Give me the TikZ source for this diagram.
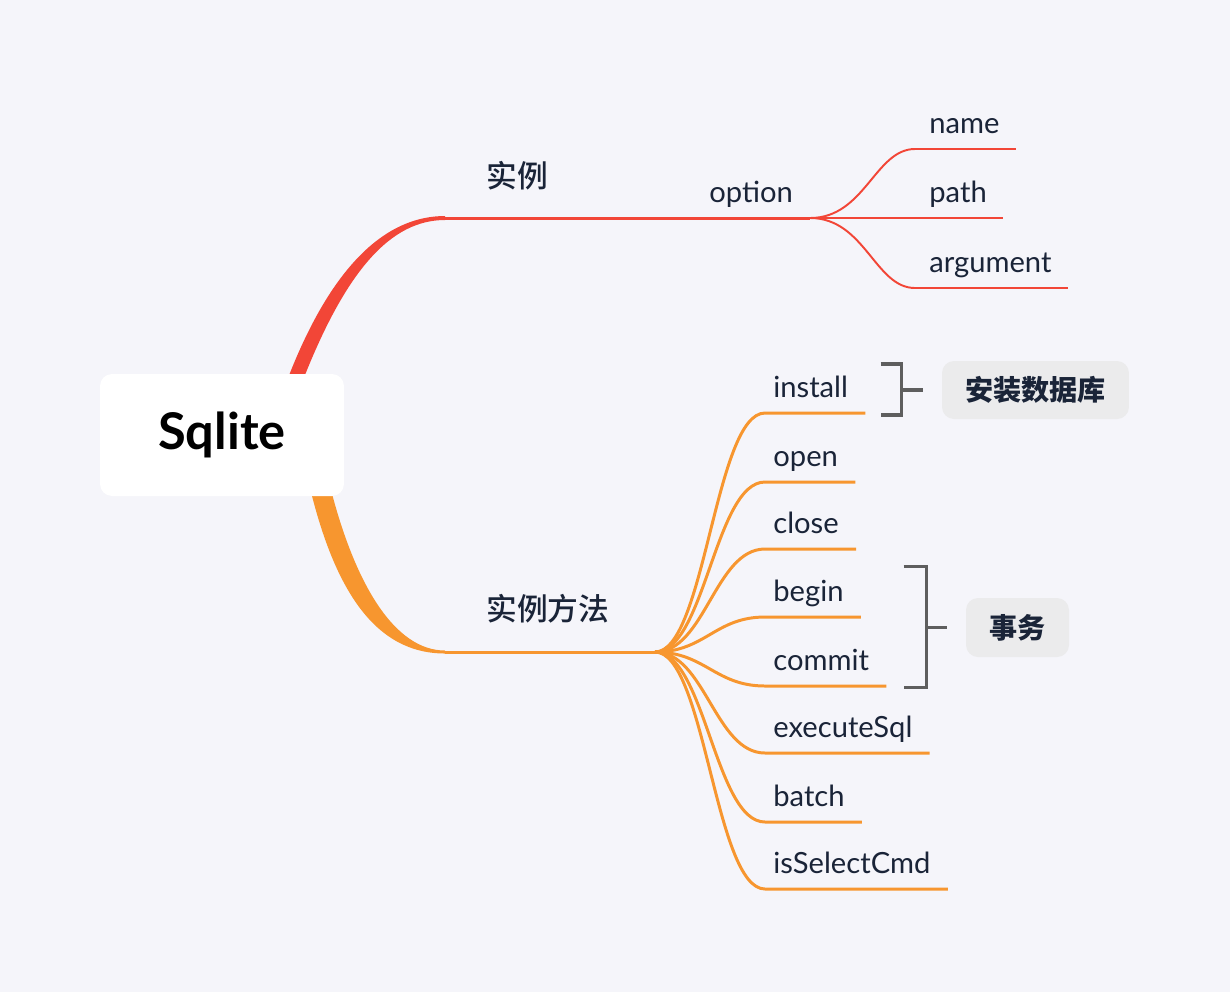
\documentclass[tikz,border=0pt]{standalone}
\usepackage{fontspec}
\setmainfont{Lato}
\newfontfamily\cjk{Noto Sans CJK SC}
\newfontfamily\cjkmed{Noto Sans CJK SC Medium}
\usetikzlibrary{calc}
\definecolor{bg}{HTML}{F5F5FA}
\definecolor{redbr}{HTML}{F24637}
\definecolor{orbr}{HTML}{F7962F}
\definecolor{ink}{HTML}{1A2438}
\definecolor{bracegray}{HTML}{5E5E5E}
\definecolor{notefill}{HTML}{EBEBEC}
\tikzstyle{root} = [fill=white,rounded corners=0.24cm,minimum width=4.88cm,minimum height=2.44cm,font=\bfseries\fontsize{28.8}{32}\selectfont]
\tikzstyle{topic} = [anchor=west,inner sep=0,text=ink,font=\cjkmed\fontsize{17.5}{20}\selectfont]
\tikzstyle{leaf} = [anchor=base west,inner sep=0,text=ink,font=\fontsize{16.6}{19}\selectfont]
\tikzstyle{twig} = [line width=1.7pt,orbr]
\tikzstyle{redtwig} = [line width=1.1pt,redbr]
\tikzstyle{brace} = [line width=1.9pt,bracegray]
\tikzstyle{note} = [fill=notefill,rounded corners=0.24cm,text=ink,font=\cjk\bfseries\fontsize{16}{18}\selectfont]

\begin{document}
\begin{tikzpicture}[x=0.02cm,y=-0.02cm]
        \fill[bg] (0,0) rectangle (1230,992);
        \coordinate (c) at (222,435);
        \coordinate (a) at (445,218);
        \coordinate (p) at (810,218);
        \coordinate (b) at (445,652);
        \coordinate (q) at (655,652);

        % main branches
        \fill[redbr] ($(c)+(66,-57)$) .. controls +(45,-116) and +(-57,0) .. ($(a)+(0,-2)$) -- ($(a)+(0,2)$) .. controls +(-53,0) and +(44,-112) .. ($(c)+(81,-55)$) -- cycle;
        \fill[orbr] ($(c)+(88,53)$) .. controls +(25,102) and +(-70,0) .. ($(b)+(0,1.5)$) -- ($(b)+(0,-1.5)$) .. controls +(-50,0) and +(25,99) .. ($(c)+(108,51)$) -- cycle;
        \draw[line width=1.7pt,redbr] (a) -- (p);
        \draw[twig] (b) -- (q);

        \node[root] (root) at (c) {Sqlite};
        \node[topic] (inst) at (486,176) {实例};
        \node[topic] (meth) at (486,609) {实例方法};
        \node[leaf] (option) at (709,202) {option};

        % option
        \node[leaf] (name) at (929,133) {name};
        \node[leaf] (path) at (929,202) {path};
        \node[leaf] (argument) at (929,272) {argument};
        \draw[redtwig] (p) .. controls +(55,0) and +(-40,0) .. ($(name.base west)+(-14,16)$) -- ($(name.base east)+(16,16)$);
        \draw[redtwig] (p) -- ($(path.base east)+(16,16)$);
        \draw[redtwig] (p) .. controls +(55,0) and +(-40,0) .. ($(argument.base west)+(-14,16)$) -- ($(argument.base east)+(16,16)$);

        % methods
        \node[leaf] (install) at (773,397) {install};
        \node[leaf] (open) at (773,466) {open};
        \node[leaf] (close) at (773,533) {close};
        \node[leaf] (begin) at (773,601) {begin};
        \node[leaf] (commit) at (773,670) {commit};
        \node[leaf] (exec) at (773,737) {executeSql};
        \node[leaf] (batch) at (773,806) {batch};
        \node[leaf] (select) at (773,873) {isSelectCmd};
        \draw[twig] (q) .. controls +(50,0) and +(-50,0) .. ($(install.base west)+(-8,16)$) -- ($(install.base east)+(17,16)$);
        \draw[twig] (q) .. controls +(50,0) and +(-50,0) .. ($(open.base west)+(-8,16)$) -- ($(open.base east)+(17,16)$);
        \draw[twig] (q) .. controls +(50,0) and +(-50,0) .. ($(close.base west)+(-8,16)$) -- ($(close.base east)+(17,16)$);
        \draw[twig] (q) .. controls +(50,0) and +(-50,0) .. ($(begin.base west)+(-8,16)$) -- ($(begin.base east)+(17,16)$);
        \draw[twig] (q) .. controls +(50,0) and +(-50,0) .. ($(commit.base west)+(-8,16)$) -- ($(commit.base east)+(17,16)$);
        \draw[twig] (q) .. controls +(50,0) and +(-50,0) .. ($(exec.base west)+(-8,16)$) -- ($(exec.base east)+(17,16)$);
        \draw[twig] (q) .. controls +(50,0) and +(-50,0) .. ($(batch.base west)+(-8,16)$) -- ($(batch.base east)+(17,16)$);
        \draw[twig] (q) .. controls +(50,0) and +(-50,0) .. ($(select.base west)+(-8,16)$) -- ($(select.base east)+(17,16)$);

        % summaries
        \node[note,minimum width=3.74cm,minimum height=1.16cm] (db) at (1035.5,390) {安装数据库};
        \node[note,minimum width=2.06cm,minimum height=1.18cm] (tx) at (1017.5,627.5) {事务};
        \draw[brace] ($(db.west)+(-61,-26)$) -| ($(db.west)+(-40,25)$) -- ++(-21,0);
        \draw[brace] ($(db.west)+(-40,0)$) -- ($(db.west)+(-19,0)$);
        \draw[brace] ($(tx.west)+(-62,-61)$) -| ($(tx.west)+(-39,60)$) -- ++(-23,0);
        \draw[brace] ($(tx.west)+(-39,0)$) -- ($(tx.west)+(-19,0)$);

      \end{tikzpicture}
\end{document}
